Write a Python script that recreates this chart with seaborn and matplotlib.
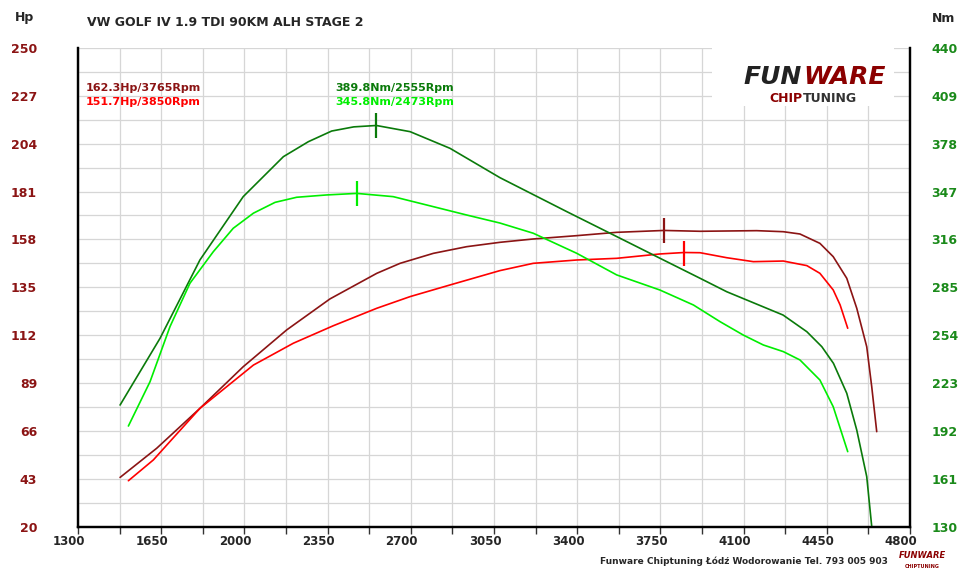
import numpy as np
import pandas as pd
import seaborn as sns
import matplotlib.pyplot as plt
from matplotlib.ticker import FixedLocator
from matplotlib.transforms import ScaledTranslation

# values
rpm_hp_tuned = [1477, 1631, 1813, 1995, 2178, 2360, 2557, 2655, 2795, 2935, 3075, 3215,
                3398, 3566, 3765, 3917, 4155, 4267, 4337, 4421, 4477, 4534, 4576, 4618,
                4639, 4660]
hp_tuned = [43.6, 57.6, 76.8, 96.8, 114.5, 129.4, 141.7, 146.5, 151.3, 154.5, 156.6, 158.2,
            159.8, 161.4, 162.3, 161.9, 162.2, 161.7, 160.6, 156.1, 149.7, 139.3, 124.9, 106.4,
            87.2, 65.6]

rpm_hp_stock = [1512, 1617, 1813, 2038, 2206, 2374, 2557, 2697, 2865, 3075, 3215, 3398,
                3566, 3748, 3850, 3917, 4029, 4141, 4267, 4366, 4421, 4477, 4506, 4538]
hp_stock = [42.0, 52.0, 76.8, 97.6, 108.1, 116.5, 124.9, 130.5, 136.1, 143.0, 146.5, 148.1,
            148.9, 151.0, 151.7, 151.6, 149.2, 147.3, 147.6, 145.4, 141.7, 133.7, 126.5, 115.3]

rpm_nm_tuned = [1477, 1645, 1813, 1995, 2164, 2269, 2367, 2460, 2555, 2697, 2865, 3075, 3356,
                3538, 3748, 3917, 4029, 4266, 4366, 4429, 4478, 4534, 4576, 4618, 4639]
nm_tuned = [208.7, 251.9, 302.7, 343.7, 369.6, 379.3, 386.2, 388.9, 389.8, 385.8, 375.0, 356.0,
            334.0, 320.0, 303.8, 290.8, 282.1, 267.0, 256.2, 246.5, 235.7, 216.3, 192.5, 162.3, 130.0]

rpm_nm_stock = [1512, 1603, 1687, 1771, 1869, 1953, 2038, 2129, 2220, 2346, 2473, 2626,
                2795, 2935, 3075, 3215, 3398, 3566, 3748, 3889, 4001, 4099, 4183, 4267,
                4337, 4421, 4477, 4538]
nm_stock = [195.1, 223.8, 259.5, 287.6, 308.0, 323.2, 333.0, 340.0, 343.3, 344.8, 345.8, 343.7,
            337.2, 331.8, 326.6, 320.0, 307.0, 293.0, 283.2, 273.5, 262.7, 254.0, 247.6, 243.3,
            237.9, 224.9, 207.6, 178.5]

peak_hp = [(3765, 162.3), (3850, 151.7)]
peak_nm = [(2555, 389.8), (2473, 345.8)]

hp_ticks = list(range(20, 251, 23))
nm_ticks = list(range(130, 441, 31))
rpm_ticks = list(range(1300, 4801, 350))

C_HP2, C_HP1 = "#8b1414", "#ff0000"
C_NM2, C_NM1 = "#0a7a0a", "#00ee00"

sns.set_style("white")
plt.rcParams["font.family"] = ["DejaVu Sans"]

fig = plt.figure(figsize=(9.6, 5.81), dpi=100)
W, H = 960, 581
ax = fig.add_axes([78 / W, 1 - 526.5 / H, (910 - 78) / W, (526.5 - 48) / H])
ax2 = ax.twinx()

ax.set_xlim(1300, 4800)
ax.set_ylim(20, 250)
ax2.set_ylim(130, 440)

# grid every 175 rpm / 11.5 hp
ax.xaxis.set_major_locator(FixedLocator(rpm_ticks))
ax.xaxis.set_minor_locator(FixedLocator(np.arange(1300, 4801, 175)))
ax.yaxis.set_major_locator(FixedLocator(hp_ticks))
ax.yaxis.set_minor_locator(FixedLocator(np.arange(20, 250, 11.5)))
ax.grid(True, which="both", color="#d6d6d6", linewidth=0.9)
ax.set_axisbelow(True)

sns.lineplot(x=rpm_hp_tuned, y=hp_tuned, ax=ax, color=C_HP2, linewidth=1.2, sort=False)
sns.lineplot(x=rpm_hp_stock, y=hp_stock, ax=ax, color=C_HP1, linewidth=1.2, sort=False)
sns.lineplot(x=rpm_nm_tuned, y=nm_tuned, ax=ax2, color=C_NM2, linewidth=1.2, sort=False)
sns.lineplot(x=rpm_nm_stock, y=nm_stock, ax=ax2, color=C_NM1, linewidth=1.2, sort=False)

for (r, v), c in zip(peak_hp, [C_HP2, C_HP1]):
    ax.plot([r], [v], marker="|", markersize=18, markeredgewidth=1.6, color=c)
for (r, v), c in zip(peak_nm, [C_NM2, C_NM1]):
    ax2.plot([r], [v], marker="|", markersize=18, markeredgewidth=1.6, color=c)

for a in (ax, ax2):
    a.spines["top"].set_visible(False)
    for s in ("left", "right", "bottom"):
        a.spines[s].set_color("black")
        a.spines[s].set_linewidth(1.6)

ax.tick_params(axis="x", which="both", direction="out", length=5, width=1, color="#333333",
               bottom=True, labelsize=8.5, pad=1)
ax.tick_params(axis="y", which="both", length=0, labelsize=9, labelcolor=C_HP2, pad=29.5)
ax2.set_yticks(nm_ticks)
ax2.tick_params(axis="y", which="both", length=0, labelsize=9, labelcolor="#1a8a1a", pad=15.5)
ax2.grid(False)
ax.set_xlabel("")
ax.set_ylabel("")
ax2.set_ylabel("")
for lbl in ax.get_xticklabels():
    lbl.set_fontweight("bold")
    lbl.set_transform(lbl.get_transform() + ScaledTranslation(-9 / 100, 0, fig.dpi_scale_trans))
for lbl in ax.get_yticklabels() + ax2.get_yticklabels():
    lbl.set_fontweight("bold")

# header texts
fig.text(87 / W, 1 - 23 / H, "VW GOLF IV 1.9 TDI 90KM ALH STAGE 2", fontsize=9,
         fontweight="bold", va="center", ha="left")
fig.text(15 / W, 1 - 17 / H, "Hp", fontsize=9, fontweight="bold", va="center")
fig.text(932 / W, 1 - 19 / H, "Nm", fontsize=9, fontweight="bold", va="center")

fig.text(86 / W, 1 - 88 / H, f"{peak_hp[0][1]}Hp/{peak_hp[0][0]}Rpm", color=C_HP2,
         fontsize=8, fontweight="bold", va="center")
fig.text(86 / W, 1 - 102 / H, f"{peak_hp[1][1]}Hp/{peak_hp[1][0]}Rpm", color=C_HP1,
         fontsize=8, fontweight="bold", va="center")
fig.text(335 / W, 1 - 88 / H, f"{peak_nm[0][1]}Nm/{peak_nm[0][0]}Rpm", color=C_NM2,
         fontsize=8, fontweight="bold", va="center")
fig.text(335 / W, 1 - 102 / H, f"{peak_nm[1][1]}Nm/{peak_nm[1][0]}Rpm", color=C_NM1,
         fontsize=8, fontweight="bold", va="center")

# logo (text only)
fig.patches.append(plt.Rectangle((712 / W, 1 - 106 / H), 182 / W, 60 / H, transform=fig.transFigure,
                                 facecolor="white", edgecolor="none", zorder=5))
fig.text(802 / W, 1 - 77 / H, "FUN", color="#222222", fontsize=18, fontweight="bold",
         fontstyle="italic", ha="right", va="center", zorder=6)
fig.text(803 / W, 1 - 77 / H, "WARE", color="#8b0000", fontsize=18, fontweight="bold",
         fontstyle="italic", ha="left", va="center", zorder=6)
fig.text(802 / W, 1 - 99 / H, "CHIP", color="#8b0000", fontsize=9, fontweight="bold",
         ha="right", va="center", zorder=6)
fig.text(803 / W, 1 - 99 / H, "TUNING", color="#333333", fontsize=9, fontweight="bold",
         ha="left", va="center", zorder=6)

# footer
fig.text(888 / W, 1 - 561 / H, "Funware Chiptuning Łódź Wodorowanie Tel. 793 005 903",
         fontsize=6.5, fontweight="bold", ha="right", va="center")
fig.text(922 / W, 1 - 556 / H, "FUNWARE", color="#8b0000", fontsize=6, fontweight="bold",
         fontstyle="italic", ha="center", va="center")
fig.text(922 / W, 1 - 567 / H, "CHIPTUNING", color="#8b0000", fontsize=3.5, fontweight="bold",
         ha="center", va="center")

fig.savefig("out.png", dpi=100)
